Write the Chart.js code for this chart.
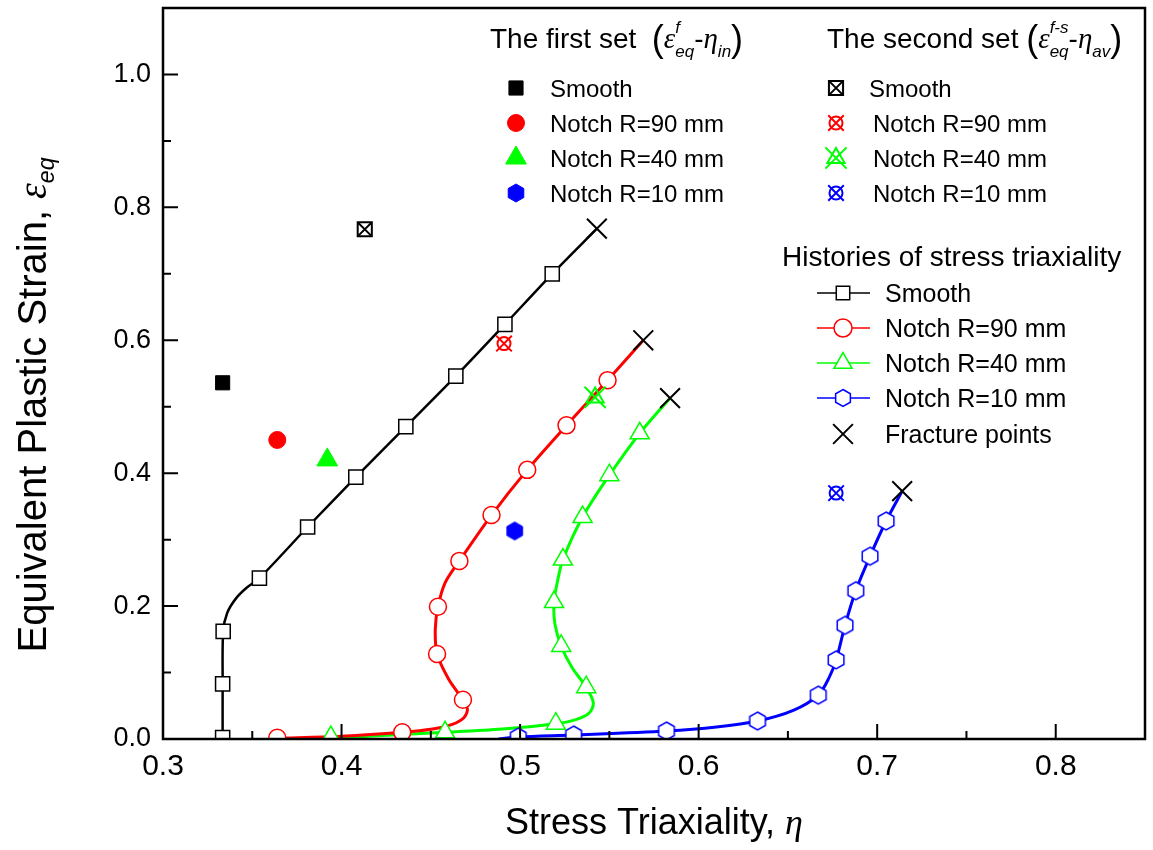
<!DOCTYPE html>
<html>
<head>
<meta charset="utf-8">
<title>Stress triaxiality histories</title>
<script src="https://cdn.jsdelivr.net/npm/chart.js@4.4.1/dist/chart.umd.min.js"></script>
<style>
  html, body { margin: 0; padding: 0; background: #fff; }
  canvas { display: block; }
</style>
</head>
<body>
<canvas id="myChart" width="1153" height="850"></canvas>
<script>
// axis ticks
const xTicks = [0.3, 0.4, 0.5, 0.6, 0.7, 0.8];
const yTicks = [0.0, 0.2, 0.4, 0.6, 0.8, 1.0];

// histories of stress triaxiality (eta, eps) - curve points
const smoothEta = [0.3334, 0.3334, 0.3337, 0.3360, 0.3410, 0.3470, 0.3540, 0.3810, 0.4080, 0.4360, 0.4640, 0.4915, 0.5180, 0.5430];
const smoothEps = [0.000, 0.083, 0.162, 0.190, 0.212, 0.228, 0.242, 0.319, 0.394, 0.470, 0.546, 0.624, 0.700, 0.768];
const r90Eta = [0.364, 0.400, 0.434, 0.451, 0.462, 0.4685, 0.4705, 0.468, 0.460, 0.4535, 0.4525, 0.454, 0.458, 0.466, 0.484, 0.504, 0.526, 0.549, 0.569];
const r90Eps = [0.001, 0.004, 0.010, 0.015, 0.022, 0.032, 0.045, 0.059, 0.090, 0.128, 0.165, 0.199, 0.235, 0.268, 0.337, 0.405, 0.472, 0.540, 0.600];
const r40Eta = [0.394, 0.420, 0.458, 0.490, 0.520, 0.532, 0.539, 0.541, 0.537, 0.529, 0.523, 0.5195, 0.519, 0.521, 0.524, 0.535, 0.550, 0.567, 0.584];
const r40Eps = [0.001, 0.005, 0.010, 0.015, 0.023, 0.030, 0.040, 0.055, 0.078, 0.108, 0.140, 0.173, 0.206, 0.238, 0.270, 0.334, 0.397, 0.460, 0.513];
const r10Eta = [0.488, 0.499, 0.530, 0.582, 0.610, 0.633, 0.653, 0.667, 0.673, 0.677, 0.682, 0.688, 0.696, 0.705, 0.714];
const r10Eps = [0.000, 0.003, 0.006, 0.012, 0.018, 0.027, 0.043, 0.066, 0.092, 0.119, 0.171, 0.223, 0.275, 0.328, 0.373];

// symbols along the histories
const smoothMkEta = [0.3334, 0.3334, 0.3337, 0.354, 0.381, 0.408, 0.436, 0.464, 0.4915, 0.518];
const smoothMkEps = [0.002, 0.083, 0.162, 0.242, 0.319, 0.394, 0.470, 0.546, 0.624, 0.700];
const r90MkEta = [0.364, 0.434, 0.468, 0.4535, 0.454, 0.466, 0.484, 0.504, 0.526, 0.549];
const r90MkEps = [0.002, 0.010, 0.059, 0.128, 0.199, 0.268, 0.337, 0.405, 0.472, 0.540];
const r40MkEta = [0.394, 0.458, 0.520, 0.537, 0.523, 0.519, 0.524, 0.535, 0.550, 0.567];
const r40MkEps = [0.003, 0.010, 0.023, 0.078, 0.140, 0.206, 0.270, 0.334, 0.397, 0.460];
const r10MkEta = [0.499, 0.530, 0.582, 0.633, 0.667, 0.677, 0.682, 0.688, 0.696, 0.705];
const r10MkEps = [0.003, 0.006, 0.012, 0.027, 0.066, 0.119, 0.171, 0.223, 0.275, 0.328];

// fracture points
const fracEta = [0.543, 0.569, 0.584, 0.714];
const fracEps = [0.768, 0.600, 0.513, 0.373];

// first set (eps_f - eta_in) and second set (eps_f-s - eta_av)
const specimens = ['Smooth', 'Notch R=90 mm', 'Notch R=40 mm', 'Notch R=10 mm'];
const set1Eta = [0.3334, 0.364, 0.392, 0.497];
const set1Eps = [0.536, 0.450, 0.420, 0.313];
const set2Eta = [0.413, 0.491, 0.542, 0.677];
const set2Eps = [0.767, 0.595, 0.514, 0.370];

const colors = ['#000000', '#ff0000', '#00ff00', '#0000ff'];
const SANS = '"Liberation Sans", Arial, sans-serif';
const SERIF = '"Liberation Serif", "Times New Roman", serif';

const pts = (xs, ys) => xs.map((v, i) => ({x: v, y: ys[i]}));

function drawMark(ctx, style, x, y, r, stroke, fill, lw) {
  ctx.save();
  ctx.lineWidth = lw;
  ctx.strokeStyle = stroke;
  ctx.beginPath();
  if (style === 'rect') {
    const s = r * Math.SQRT1_2;
    ctx.rect(x - s, y - s, 2 * s, 2 * s);
  } else if (style === 'circle') {
    ctx.arc(x, y, r, 0, 2 * Math.PI);
  } else if (style === 'triangle') {
    ctx.moveTo(x, y - r);
    ctx.lineTo(x + r * 0.866, y + r / 2);
    ctx.lineTo(x - r * 0.866, y + r / 2);
    ctx.closePath();
  } else if (style === 'hex') {
    for (let i = 0; i < 6; i++) {
      const a = -Math.PI / 2 + i * Math.PI / 3;
      if (i === 0) ctx.moveTo(x + r * Math.cos(a), y + r * Math.sin(a));
      else ctx.lineTo(x + r * Math.cos(a), y + r * Math.sin(a));
    }
    ctx.closePath();
  } else if (style === 'crossRot') {
    const s = r * Math.SQRT1_2;
    ctx.moveTo(x - s, y - s); ctx.lineTo(x + s, y + s);
    ctx.moveTo(x + s, y - s); ctx.lineTo(x - s, y + s);
  }
  if (fill && style !== 'crossRot') {
    ctx.fillStyle = fill;
    ctx.fill();
  }
  ctx.stroke();
  ctx.restore();
}

function hexImage(r, stroke, fill, lw) {
  const c = document.createElement('canvas');
  const s = Math.ceil(2 * r + lw + 2);
  c.width = s; c.height = s;
  drawMark(c.getContext('2d'), 'hex', s / 2, s / 2, r, stroke, fill, lw);
  return c;
}
const hexHollow = hexImage(9, '#0000ff', '#ffffff', 1.5);
const hexFilled = hexImage(9, '#0000ff', '#0000ff', 1);

// draws a list of text runs, returns end x
function drawRich(ctx, x, y, runs, measureOnly) {
  let cx = x;
  runs.forEach(r => {
    ctx.font = r.f;
    if (r.sup !== undefined) {
      const w = Math.max(ctx.measureText(r.sup).width, ctx.measureText(r.sub).width);
      if (!measureOnly) {
        ctx.fillText(r.sup, cx, y + r.supDy);
        ctx.fillText(r.sub, cx, y + r.subDy);
      }
      cx += w;
    } else {
      if (!measureOnly) ctx.fillText(r.t, cx, y + (r.dy || 0));
      cx += ctx.measureText(r.t).width;
    }
  });
  return cx;
}

const decor = {
  id: 'decor',
  afterDatasetsDraw(chart) {
    const {ctx, chartArea: a, scales: {x, y}} = chart;
    ctx.save();
    ctx.strokeStyle = '#000';
    ctx.lineWidth = 2;
    ctx.beginPath();
    xTicks.forEach(v => {
      const px = x.getPixelForValue(v);
      ctx.moveTo(px, a.bottom); ctx.lineTo(px, a.bottom - 15);
      const pm = x.getPixelForValue(v + 0.05);
      if (pm < a.right - 2) { ctx.moveTo(pm, a.bottom); ctx.lineTo(pm, a.bottom - 8); }
    });
    yTicks.forEach(v => {
      const py = y.getPixelForValue(v);
      ctx.moveTo(a.left, py); ctx.lineTo(a.left + 15, py);
      const pm = y.getPixelForValue(v + 0.1);
      if (pm > a.top + 2) { ctx.moveTo(a.left, pm); ctx.lineTo(a.left + 8, pm); }
    });
    ctx.stroke();
    ctx.lineWidth = 2.5;
    ctx.strokeRect(a.left, a.top, a.right - a.left, a.bottom - a.top);
    ctx.restore();
  },
  afterDraw(chart) {
    const {ctx, chartArea: a} = chart;
    ctx.save();
    ctx.fillStyle = '#000';
    ctx.textBaseline = 'alphabetic';
    ctx.textAlign = 'left';

    // axis titles
    const xRuns = [
      {t: 'Stress Triaxiality, ', f: `36px ${SANS}`},
      {t: 'η', f: `italic 36px ${SERIF}`}
    ];
    const xw = drawRich(ctx, 0, 0, xRuns, true);
    drawRich(ctx, (a.left + a.right) / 2 - xw / 2, 834, xRuns);

    const yRuns = [
      {t: 'Equivalent Plastic Strain, ', f: `40px ${SANS}`},
      {t: 'ε', f: `italic 40px ${SERIF}`},
      {t: 'eq', f: `italic 23px ${SANS}`, dy: 8}
    ];
    const yw = drawRich(ctx, 0, 0, yRuns, true);
    ctx.save();
    ctx.translate(46, 405);
    ctx.rotate(-Math.PI / 2);
    drawRich(ctx, -yw / 2, 0, yRuns);
    ctx.restore();

    // first / second set legend titles
    drawRich(ctx, 490, 48, [
      {t: 'The first set  ', f: `28px ${SANS}`},
      {t: '(', f: `36px ${SANS}`, dy: 3},
      {t: 'ε', f: `italic 29px ${SERIF}`},
      {sup: 'f', sub: 'eq', f: `italic 17px ${SANS}`, supDy: -15, subDy: 9},
      {t: '-', f: `28px ${SANS}`},
      {t: 'η', f: `italic 29px ${SERIF}`},
      {t: 'in', f: `italic 17px ${SANS}`, dy: 9},
      {t: ')', f: `36px ${SANS}`, dy: 3}
    ]);
    drawRich(ctx, 827, 48, [
      {t: 'The second set ', f: `28px ${SANS}`},
      {t: '(', f: `36px ${SANS}`, dy: 3},
      {t: 'ε', f: `italic 29px ${SERIF}`},
      {sup: 'f-s', sub: 'eq', f: `italic 17px ${SANS}`, supDy: -15, subDy: 9},
      {t: '-', f: `28px ${SANS}`},
      {t: 'η', f: `italic 29px ${SERIF}`},
      {t: 'av', f: `italic 17px ${SANS}`, dy: 9},
      {t: ')', f: `36px ${SANS}`, dy: 3}
    ]);

    const rows = [88, 123, 158, 193];
    const set1Style = ['rect', 'circle', 'triangle', 'hex'];
    const set1Size = [10, 8.5, 12, 9];
    const set2Style = ['rect', 'circle', 'triangle', 'circle'];
    const set2Size = [10, 6.5, 10, 6.5];
    const set2Cross = [9, 11, 15, 11];
    specimens.forEach((name, i) => {
      const cy = rows[i];
      drawMark(ctx, set1Style[i], 516, cy, set1Size[i], colors[i], colors[i], 1);
      drawMark(ctx, set2Style[i], 836, cy, set2Size[i], colors[i], null, 2);
      drawMark(ctx, 'crossRot', 836, cy, set2Cross[i], colors[i], null, 2);
      ctx.fillStyle = '#000';
      ctx.font = `24px ${SANS}`;
      ctx.fillText(name, 550, cy + 8.5);
      ctx.fillText(name, i === 0 ? 869 : 873, cy + 8.5);
    });

    // histories legend
    ctx.font = `28px ${SANS}`;
    ctx.fillText('Histories of stress triaxiality', 782, 266);
    const hRows = [293, 328, 363, 398, 434];
    const hStyle = ['rect', 'circle', 'triangle', 'hex'];
    const hSize = [9.5, 9, 10.5, 8.5];
    specimens.forEach((name, i) => {
      const cy = hRows[i];
      ctx.save();
      ctx.strokeStyle = colors[i];
      ctx.lineWidth = 1.5;
      ctx.beginPath(); ctx.moveTo(817, cy); ctx.lineTo(870, cy); ctx.stroke();
      ctx.restore();
      drawMark(ctx, hStyle[i], 843, cy, hSize[i], colors[i], '#ffffff', 1.5);
      ctx.fillStyle = '#000';
      ctx.font = `25px ${SANS}`;
      ctx.fillText(name, 885, cy + 9);
    });
    drawMark(ctx, 'crossRot', 843, hRows[4], 14, '#000', null, 2);
    ctx.font = `25px ${SANS}`;
    ctx.fillText('Fracture points', 885, hRows[4] + 9);
    ctx.restore();
  }
};

const curve = (xs, ys, color, w) => ({
  data: pts(xs, ys), showLine: true, borderColor: color, borderWidth: w,
  pointRadius: 0, tension: 0.3, clip: 0
});
const marks = (xs, ys, color, style, r) => ({
  data: pts(xs, ys), showLine: false, pointStyle: style, pointRadius: r,
  pointBorderColor: color, pointBackgroundColor: '#ffffff', pointBorderWidth: 1.5, clip: 0
});

const noPad = s => { s.paddingTop = 0; s.paddingBottom = 0; s.paddingLeft = 0; s.paddingRight = 0; };

const config = {
  type: 'scatter',
  data: {
    datasets: [
      { data: pts(fracEta, fracEps), pointStyle: 'crossRot', pointRadius: 14,
        pointBorderColor: '#000', pointBorderWidth: 2 },
      { data: pts(set2Eta, set2Eps), pointStyle: 'crossRot', pointRadius: [9, 11, 15, 11],
        pointBorderColor: colors, pointBorderWidth: 2 },
      { data: pts(set2Eta, set2Eps), pointStyle: ['rect', 'circle', 'triangle', 'circle'],
        pointRadius: [10, 6.5, 10, 6.5], pointBorderColor: colors,
        pointBackgroundColor: 'rgba(0,0,0,0)', pointBorderWidth: 2 },
      { data: pts(set1Eta, set1Eps), pointStyle: ['rect', 'circle', 'triangle', hexFilled],
        pointRadius: [10, 8.5, 12, 9], pointBorderColor: colors,
        pointBackgroundColor: colors, pointBorderWidth: 1 },
      marks(smoothMkEta, smoothMkEps, '#000000', 'rect', 10),
      marks(r90MkEta, r90MkEps, '#ff0000', 'circle', 8.5),
      marks(r40MkEta, r40MkEps, '#00ff00', 'triangle', 11),
      marks(r10MkEta, r10MkEps, '#0000ff', hexHollow, 9),
      curve(smoothEta, smoothEps, '#000000', 2.5),
      curve(r90Eta, r90Eps, '#ff0000', 3),
      curve(r40Eta, r40Eps, '#00ff00', 3),
      curve(r10Eta, r10Eps, '#0000ff', 3)
    ]
  },
  options: {
    responsive: false,
    animation: false,
    layout: { autoPadding: false, padding: { left: 0, right: 8, top: 8, bottom: 0 } },
    plugins: { legend: { display: false }, tooltip: { enabled: false } },
    scales: {
      x: {
        type: 'linear', min: 0.3, max: 0.85,
        grid: { display: false, drawTicks: false },
        border: { display: false },
        afterBuildTicks: s => { s.ticks = xTicks.map(v => ({value: v})); },
        afterFit: s => { s.height = 111; noPad(s); },
        ticks: { color: '#000', font: { family: SANS, size: 30 }, padding: 10,
                 maxRotation: 0, callback: v => v.toFixed(1) }
      },
      y: {
        type: 'linear', min: 0, max: 1.1,
        grid: { display: false, drawTicks: false },
        border: { display: false },
        afterBuildTicks: s => { s.ticks = yTicks.map(v => ({value: v})); },
        afterFit: s => { s.width = 163; noPad(s); },
        ticks: { color: '#000', font: { family: SANS, size: 27 }, padding: 12,
                 callback: v => v.toFixed(1) }
      }
    }
  },
  plugins: [decor]
};

const myChart = new Chart(document.getElementById('myChart'), config);
</script>
</body>
</html>
